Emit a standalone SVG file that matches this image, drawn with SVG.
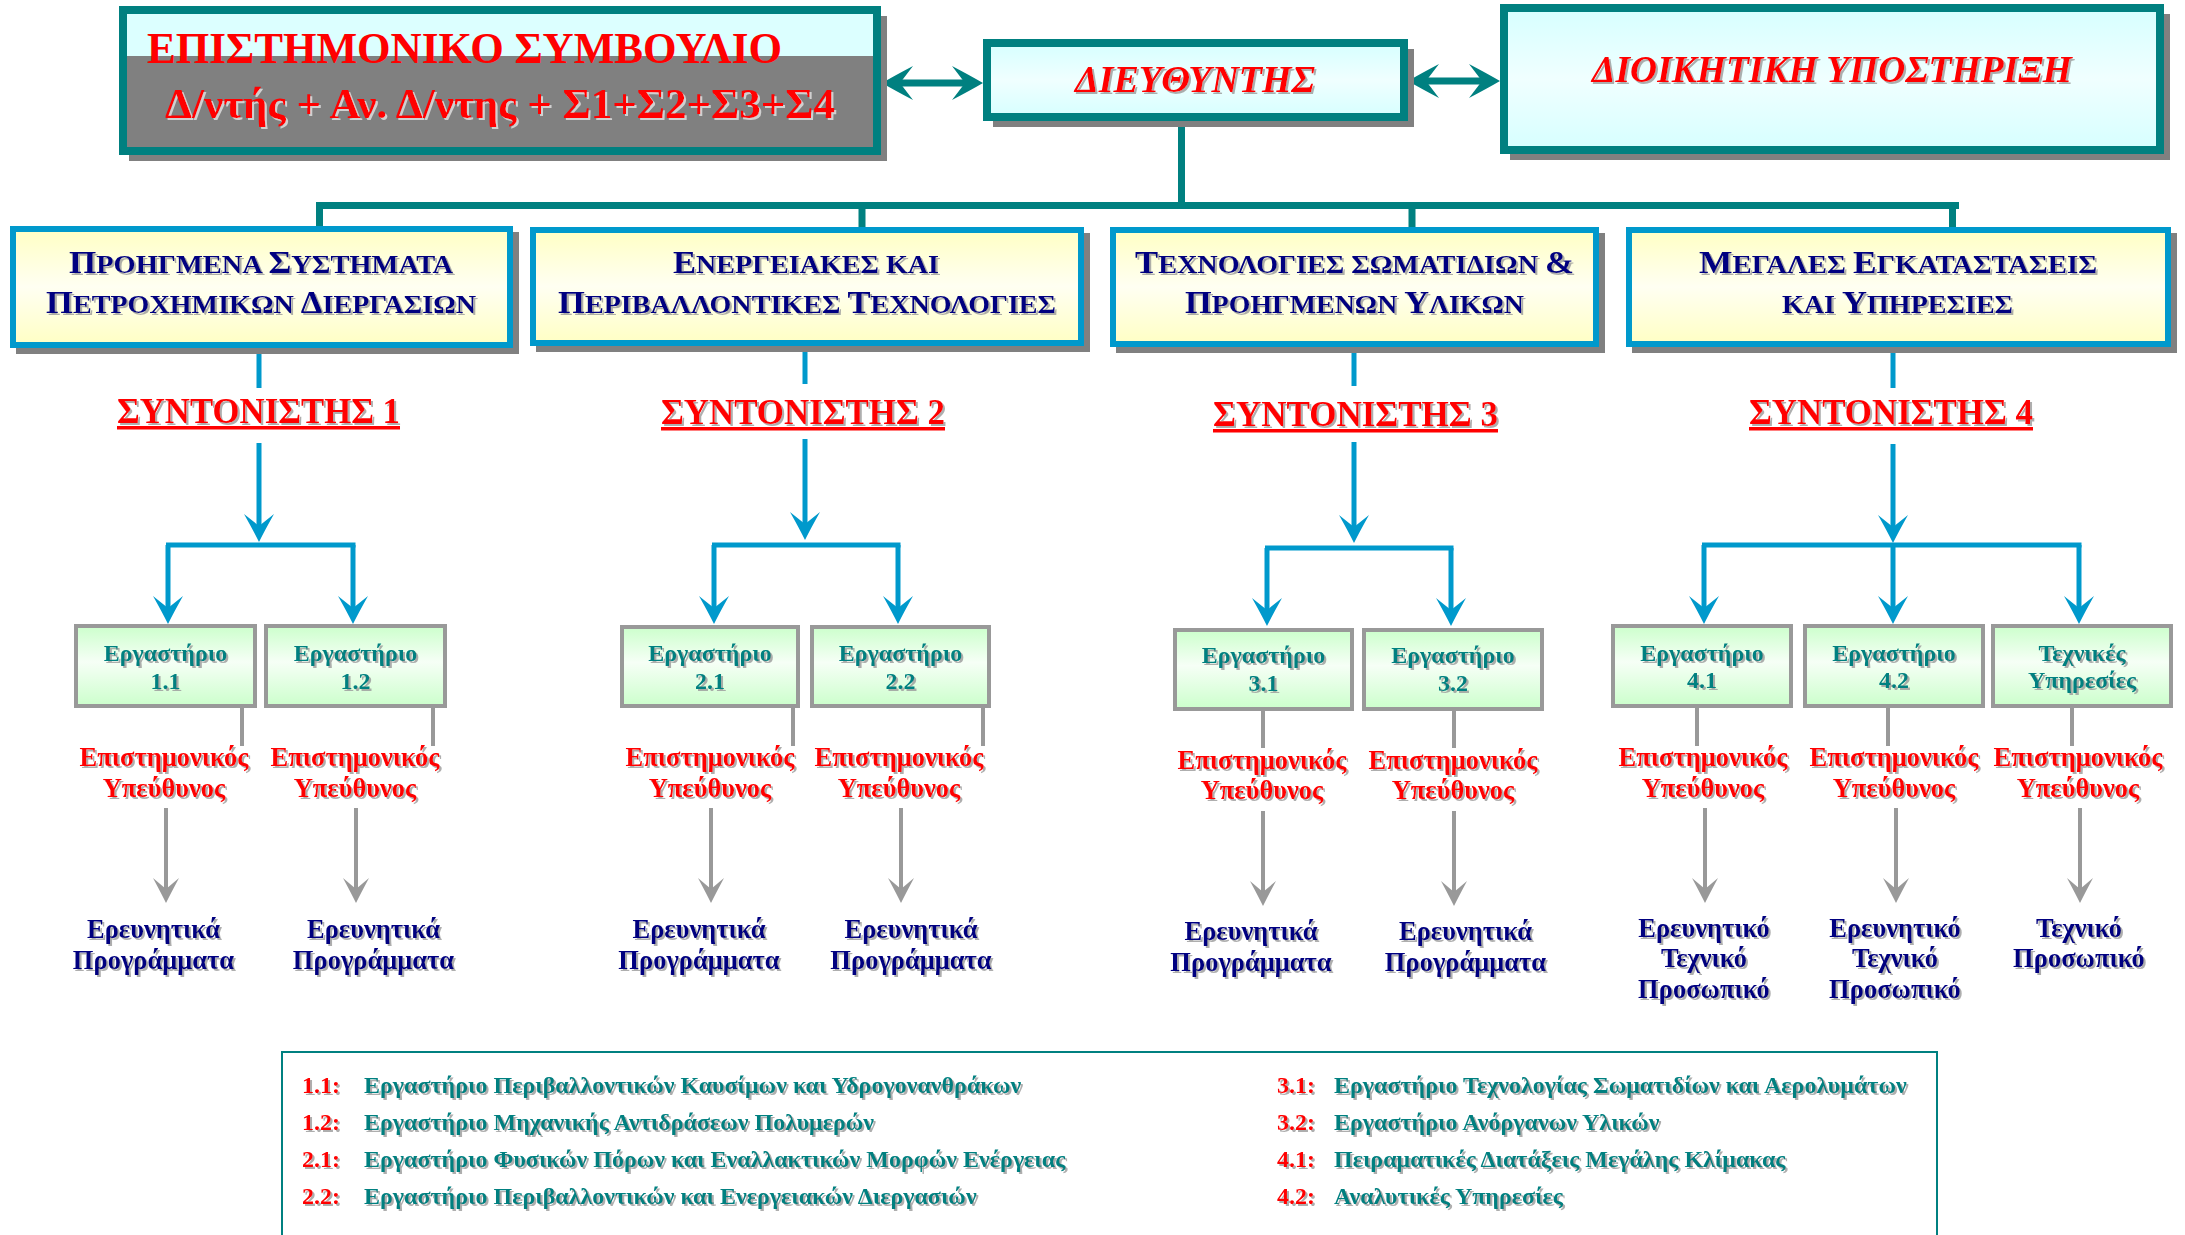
<svg xmlns="http://www.w3.org/2000/svg" width="2185" height="1235" viewBox="0 0 2185 1235">
<style>
text{font-family:"Liberation Serif","Times New Roman",serif;font-weight:bold}
.red{fill:#ff0000}
.navy{fill:#000080}
.teal{fill:#008080}
.cat{font-size:26px;fill:#000080}
.big{font-size:32px}
.coord{font-size:35px;fill:#ff0000}
.lab{font-size:24px;fill:#008080}
.resp{font-size:26.5px;fill:#ff0000}
.out{font-size:26.5px;fill:#000080}
.leg{font-size:24px}
.shadow{fill:#808080}
.tealbox{stroke:#008080;stroke-width:8}
.catbox{stroke:#0099cc;stroke-width:6;fill:url(#gYellow)}
.labbox{stroke:#999999;stroke-width:4;fill:url(#gGreen)}
.tline{stroke:#008080;stroke-width:7;fill:none}
.bline{stroke:#0099cc;stroke-width:5;fill:none}
.gline{stroke:#999999;stroke-width:4;fill:none}
</style>
<defs>
<linearGradient id="gCyan" x1="0" y1="0" x2="0" y2="1"><stop offset="0" stop-color="#d6ffff"/><stop offset="0.5" stop-color="#f0ffff"/><stop offset="1" stop-color="#d6ffff"/></linearGradient>
<linearGradient id="gYellow" x1="0" y1="0" x2="0" y2="1"><stop offset="0" stop-color="#ffffc4"/><stop offset="0.5" stop-color="#fffff2"/><stop offset="1" stop-color="#ffffc4"/></linearGradient>
<linearGradient id="gGreen" x1="0" y1="0" x2="0" y2="1"><stop offset="0" stop-color="#ccffcc"/><stop offset="0.45" stop-color="#f6fff6"/><stop offset="1" stop-color="#ccffcc"/></linearGradient>
<filter id="ts" x="-5%" y="-20%" width="110%" height="140%"><feDropShadow dx="2" dy="2" stdDeviation="0.4" flood-color="#9a9a9a" flood-opacity="0.8"/></filter>
<filter id="tsl" x="-5%" y="-20%" width="110%" height="140%"><feDropShadow dx="2" dy="2" stdDeviation="0.3" flood-color="#d0d0d0" flood-opacity="1"/></filter>
<marker id="aBlue" markerUnits="userSpaceOnUse" orient="auto" refX="-14" refY="0" markerWidth="60" markerHeight="60" overflow="visible"><path d="M0,0 Q-12,-6 -28,-15 L-16,0 L-28,15 Q-12,6 0,0Z" fill="#0099cc"/></marker>
<marker id="aGray" markerUnits="userSpaceOnUse" orient="auto" refX="-12" refY="0" markerWidth="60" markerHeight="60" overflow="visible"><path d="M0,0 Q-10,-5 -25,-13 L-14,0 L-25,13 Q-10,5 0,0Z" fill="#999999"/></marker>
<marker id="aTeal" markerUnits="userSpaceOnUse" orient="auto-start-reverse" refX="-14" refY="0" markerWidth="60" markerHeight="60" overflow="visible"><path d="M0,0 Q-12,-7 -31,-17 L-18,0 L-31,17 Q-12,7 0,0Z" fill="#008080"/></marker>
</defs>
<rect width="2185" height="1235" fill="#ffffff"/>

<g id="connectors">
<path class="tline" d="M896,83 H969" marker-start="url(#aTeal)" marker-end="url(#aTeal)"/>
<path class="tline" d="M1422,81 H1486" marker-start="url(#aTeal)" marker-end="url(#aTeal)"/>
<path class="tline" d="M1181.5,121 V205.5 M316,205.5 H1959 M319.5,205 V228 M862,205 V228 M1412,205 V228 M1952.5,205 V228"/>
<path class="bline" d="M259,348 V388 M805,346 V384 M1354,348 V386 M1893,348 V388"/>
<path class="bline" d="M259,443 V528" marker-end="url(#aBlue)"/>
<path class="bline" d="M805,439 V526" marker-end="url(#aBlue)"/>
<path class="bline" d="M1354,442 V529" marker-end="url(#aBlue)"/>
<path class="bline" d="M1893,444 V529" marker-end="url(#aBlue)"/>
<path class="bline" d="M166,545 H355.5 M712,545 H900.5 M1265,548 H1453.5 M1702,545 H2081.5"/>
<path class="bline" d="M168,545 V610" marker-end="url(#aBlue)"/>
<path class="bline" d="M353,545 V610" marker-end="url(#aBlue)"/>
<path class="bline" d="M714,545 V610" marker-end="url(#aBlue)"/>
<path class="bline" d="M898,545 V610" marker-end="url(#aBlue)"/>
<path class="bline" d="M1267,548 V612" marker-end="url(#aBlue)"/>
<path class="bline" d="M1451,548 V612" marker-end="url(#aBlue)"/>
<path class="bline" d="M1704,545 V610" marker-end="url(#aBlue)"/>
<path class="bline" d="M1893,545 V610" marker-end="url(#aBlue)"/>
<path class="bline" d="M2079,545 V610" marker-end="url(#aBlue)"/>
<path class="gline" d="M242,708 V746 M433,708 V746 M793,708 V746 M983,708 V746 M1263,711 V748 M1454,711 V748 M1697,708 V746 M1888,708 V746 M2072,708 V746"/>
<path class="gline" d="M166,808 V891" marker-end="url(#aGray)"/>
<path class="gline" d="M356,808 V891" marker-end="url(#aGray)"/>
<path class="gline" d="M711,808 V891" marker-end="url(#aGray)"/>
<path class="gline" d="M901,808 V891" marker-end="url(#aGray)"/>
<path class="gline" d="M1263,811 V894" marker-end="url(#aGray)"/>
<path class="gline" d="M1454,811 V894" marker-end="url(#aGray)"/>
<path class="gline" d="M1705,808 V891" marker-end="url(#aGray)"/>
<path class="gline" d="M1896,808 V891" marker-end="url(#aGray)"/>
<path class="gline" d="M2080,808 V891" marker-end="url(#aGray)"/>
</g>

<g id="node-council">
<rect class="shadow" x="129" y="16" width="758" height="145"/>
<rect x="123" y="10" width="754" height="141" fill="#dcffff"/>
<rect x="123" y="56" width="754" height="95" fill="#808080"/>
<rect class="tealbox" x="123" y="10" width="754" height="141" fill="none"/>
<text x="147" y="63" class="red" font-size="44" textLength="635" lengthAdjust="spacingAndGlyphs">ΕΠΙΣΤΗΜΟΝΙΚΟ ΣΥΜΒΟΥΛΙΟ</text>
<text x="165" y="118" class="red" font-size="42" textLength="670" lengthAdjust="spacingAndGlyphs" filter="url(#tsl)">Δ/ντής + Αν. Δ/ντης + Σ1+Σ2+Σ3+Σ4</text>
</g>

<g id="node-director">
<rect class="shadow" x="993" y="49" width="421" height="78"/>
<rect class="tealbox" x="987" y="43" width="417" height="74" fill="url(#gCyan)"/>
<text x="1195" y="92" text-anchor="middle" class="red" font-size="38" font-style="italic" textLength="240" lengthAdjust="spacingAndGlyphs" filter="url(#ts)">ΔΙΕΥΘΥΝΤΗΣ</text>
</g>

<g id="node-admin">
<rect class="shadow" x="1510" y="14" width="660" height="146"/>
<rect class="tealbox" x="1504" y="8" width="656" height="142" fill="url(#gCyan)"/>
<text x="1832" y="82" text-anchor="middle" class="red" font-size="38" font-style="italic" textLength="480" lengthAdjust="spacingAndGlyphs" filter="url(#ts)">ΔΙΟΙΚΗΤΙΚΗ ΥΠΟΣΤΗΡΙΞΗ</text>
</g>

<g id="node-cat1">
<rect class="shadow" x="16" y="232" width="503" height="122"/>
<rect class="catbox" x="13" y="229" width="497" height="116"/>
<text class="cat" x="261" y="273" text-anchor="middle" textLength="384" lengthAdjust="spacingAndGlyphs" filter="url(#ts)"><tspan class="big">Π</tspan>ΡΟΗΓΜΕΝΑ <tspan class="big">Σ</tspan>ΥΣΤΗΜΑΤΑ</text>
<text class="cat" x="261" y="313" text-anchor="middle" textLength="430" lengthAdjust="spacingAndGlyphs" filter="url(#ts)"><tspan class="big">Π</tspan>ΕΤΡΟΧΗΜΙΚΩΝ <tspan class="big">Δ</tspan>ΙΕΡΓΑΣΙΩΝ</text>
</g>
<g id="node-cat2">
<rect class="shadow" x="536" y="233" width="554" height="119"/>
<rect class="catbox" x="533" y="230" width="548" height="113"/>
<text class="cat" x="806" y="273" text-anchor="middle" textLength="266" lengthAdjust="spacingAndGlyphs" filter="url(#ts)"><tspan class="big">Ε</tspan>ΝΕΡΓΕΙΑΚΕΣ ΚΑΙ</text>
<text class="cat" x="807" y="313" text-anchor="middle" textLength="498" lengthAdjust="spacingAndGlyphs" filter="url(#ts)"><tspan class="big">Π</tspan>ΕΡΙΒΑΛΛΟΝΤΙΚΕΣ <tspan class="big">Τ</tspan>ΕΧΝΟΛΟΓΙΕΣ</text>
</g>
<g id="node-cat3">
<rect class="shadow" x="1116" y="233" width="489" height="120"/>
<rect class="catbox" x="1113" y="230" width="483" height="114"/>
<text class="cat" x="1354.5" y="273" text-anchor="middle" textLength="439" lengthAdjust="spacingAndGlyphs" filter="url(#ts)"><tspan class="big">Τ</tspan>ΕΧΝΟΛΟΓΙΕΣ ΣΩΜΑΤΙΔΙΩΝ <tspan class="big">&amp;</tspan></text>
<text class="cat" x="1354.5" y="313" text-anchor="middle" textLength="339" lengthAdjust="spacingAndGlyphs" filter="url(#ts)"><tspan class="big">Π</tspan>ΡΟΗΓΜΕΝΩΝ <tspan class="big">Υ</tspan>ΛΙΚΩΝ</text>
</g>
<g id="node-cat4">
<rect class="shadow" x="1632" y="233" width="545" height="120"/>
<rect class="catbox" x="1629" y="230" width="539" height="114"/>
<text class="cat" x="1898" y="273" text-anchor="middle" textLength="398" lengthAdjust="spacingAndGlyphs" filter="url(#ts)"><tspan class="big">Μ</tspan>ΕΓΑΛΕΣ <tspan class="big">Ε</tspan>ΓΚΑΤΑΣΤΑΣΕΙΣ</text>
<text class="cat" x="1897.5" y="313" text-anchor="middle" textLength="231" lengthAdjust="spacingAndGlyphs" filter="url(#ts)">ΚΑΙ <tspan class="big">Υ</tspan>ΠΗΡΕΣΙΕΣ</text>
</g>

<g id="node-coord1">
<text class="coord" x="258.5" y="423" text-anchor="middle" textLength="283" lengthAdjust="spacingAndGlyphs" filter="url(#ts)">ΣΥΝΤΟΝΙΣΤΗΣ 1</text>
<rect x="117" y="426" width="283" height="3.5" fill="#ff0000"/>
</g>
<g id="node-coord2">
<text class="coord" x="803" y="424" text-anchor="middle" textLength="284" lengthAdjust="spacingAndGlyphs" filter="url(#ts)">ΣΥΝΤΟΝΙΣΤΗΣ 2</text>
<rect x="661" y="427" width="284" height="3.5" fill="#ff0000"/>
</g>
<g id="node-coord3">
<text class="coord" x="1355.5" y="426" text-anchor="middle" textLength="285" lengthAdjust="spacingAndGlyphs" filter="url(#ts)">ΣΥΝΤΟΝΙΣΤΗΣ 3</text>
<rect x="1213" y="429" width="285" height="3.5" fill="#ff0000"/>
</g>
<g id="node-coord4">
<text class="coord" x="1891" y="424" text-anchor="middle" textLength="284" lengthAdjust="spacingAndGlyphs" filter="url(#ts)">ΣΥΝΤΟΝΙΣΤΗΣ 4</text>
<rect x="1749" y="427" width="284" height="3.5" fill="#ff0000"/>
</g>

<g id="node-lab11">
<rect class="labbox" x="76" y="626" width="179" height="80"/>
<text class="lab" x="165.5" y="661" text-anchor="middle" filter="url(#ts)">Εργαστήριο</text>
<text class="lab" x="165.5" y="689" text-anchor="middle" filter="url(#ts)">1.1</text>
</g>
<g id="node-lab12">
<rect class="labbox" x="266" y="626" width="179" height="80"/>
<text class="lab" x="355.5" y="661" text-anchor="middle" filter="url(#ts)">Εργαστήριο</text>
<text class="lab" x="355.5" y="689" text-anchor="middle" filter="url(#ts)">1.2</text>
</g>
<g id="node-lab21">
<rect class="labbox" x="622" y="627" width="176" height="79"/>
<text class="lab" x="710" y="661" text-anchor="middle" filter="url(#ts)">Εργαστήριο</text>
<text class="lab" x="710" y="689" text-anchor="middle" filter="url(#ts)">2.1</text>
</g>
<g id="node-lab22">
<rect class="labbox" x="812" y="627" width="177" height="79"/>
<text class="lab" x="900.5" y="661" text-anchor="middle" filter="url(#ts)">Εργαστήριο</text>
<text class="lab" x="900.5" y="689" text-anchor="middle" filter="url(#ts)">2.2</text>
</g>
<g id="node-lab31">
<rect class="labbox" x="1175" y="630" width="177" height="79"/>
<text class="lab" x="1263.5" y="663" text-anchor="middle" filter="url(#ts)">Εργαστήριο</text>
<text class="lab" x="1263.5" y="691" text-anchor="middle" filter="url(#ts)">3.1</text>
</g>
<g id="node-lab32">
<rect class="labbox" x="1364" y="630" width="178" height="79"/>
<text class="lab" x="1453" y="663" text-anchor="middle" filter="url(#ts)">Εργαστήριο</text>
<text class="lab" x="1453" y="691" text-anchor="middle" filter="url(#ts)">3.2</text>
</g>
<g id="node-lab41">
<rect class="labbox" x="1613" y="626" width="178" height="80"/>
<text class="lab" x="1702" y="661" text-anchor="middle" filter="url(#ts)">Εργαστήριο</text>
<text class="lab" x="1702" y="688" text-anchor="middle" filter="url(#ts)">4.1</text>
</g>
<g id="node-lab42">
<rect class="labbox" x="1805" y="626" width="178" height="80"/>
<text class="lab" x="1894" y="661" text-anchor="middle" filter="url(#ts)">Εργαστήριο</text>
<text class="lab" x="1894" y="688" text-anchor="middle" filter="url(#ts)">4.2</text>
</g>
<g id="node-techserv">
<rect class="labbox" x="1993" y="626" width="178" height="80"/>
<text class="lab" x="2082" y="661" text-anchor="middle" filter="url(#ts)">Τεχνικές</text>
<text class="lab" x="2082" y="688" text-anchor="middle" filter="url(#ts)">Υπηρεσίες</text>
</g>

<g id="node-resp11"><text class="resp" x="164" y="766" text-anchor="middle" filter="url(#ts)">Επιστημονικός</text><text class="resp" x="164" y="797" text-anchor="middle" filter="url(#ts)">Υπεύθυνος</text></g>
<g id="node-resp12"><text class="resp" x="355" y="766" text-anchor="middle" filter="url(#ts)">Επιστημονικός</text><text class="resp" x="355" y="797" text-anchor="middle" filter="url(#ts)">Υπεύθυνος</text></g>
<g id="node-resp21"><text class="resp" x="710" y="766" text-anchor="middle" filter="url(#ts)">Επιστημονικός</text><text class="resp" x="710" y="797" text-anchor="middle" filter="url(#ts)">Υπεύθυνος</text></g>
<g id="node-resp22"><text class="resp" x="899" y="766" text-anchor="middle" filter="url(#ts)">Επιστημονικός</text><text class="resp" x="899" y="797" text-anchor="middle" filter="url(#ts)">Υπεύθυνος</text></g>
<g id="node-resp31"><text class="resp" x="1262" y="769" text-anchor="middle" filter="url(#ts)">Επιστημονικός</text><text class="resp" x="1262" y="799" text-anchor="middle" filter="url(#ts)">Υπεύθυνος</text></g>
<g id="node-resp32"><text class="resp" x="1453" y="769" text-anchor="middle" filter="url(#ts)">Επιστημονικός</text><text class="resp" x="1453" y="799" text-anchor="middle" filter="url(#ts)">Υπεύθυνος</text></g>
<g id="node-resp41"><text class="resp" x="1703" y="766" text-anchor="middle" filter="url(#ts)">Επιστημονικός</text><text class="resp" x="1703" y="797" text-anchor="middle" filter="url(#ts)">Υπεύθυνος</text></g>
<g id="node-resp42"><text class="resp" x="1894" y="766" text-anchor="middle" filter="url(#ts)">Επιστημονικός</text><text class="resp" x="1894" y="797" text-anchor="middle" filter="url(#ts)">Υπεύθυνος</text></g>
<g id="node-resp43"><text class="resp" x="2078" y="766" text-anchor="middle" filter="url(#ts)">Επιστημονικός</text><text class="resp" x="2078" y="797" text-anchor="middle" filter="url(#ts)">Υπεύθυνος</text></g>

<g id="node-out11"><text class="out" x="153.5" y="938" text-anchor="middle" filter="url(#ts)">Ερευνητικά</text><text class="out" x="153.5" y="969" text-anchor="middle" filter="url(#ts)">Προγράμματα</text></g>
<g id="node-out12"><text class="out" x="373.5" y="938" text-anchor="middle" filter="url(#ts)">Ερευνητικά</text><text class="out" x="373.5" y="969" text-anchor="middle" filter="url(#ts)">Προγράμματα</text></g>
<g id="node-out21"><text class="out" x="699" y="938" text-anchor="middle" filter="url(#ts)">Ερευνητικά</text><text class="out" x="699" y="969" text-anchor="middle" filter="url(#ts)">Προγράμματα</text></g>
<g id="node-out22"><text class="out" x="911" y="938" text-anchor="middle" filter="url(#ts)">Ερευνητικά</text><text class="out" x="911" y="969" text-anchor="middle" filter="url(#ts)">Προγράμματα</text></g>
<g id="node-out31"><text class="out" x="1251" y="940" text-anchor="middle" filter="url(#ts)">Ερευνητικά</text><text class="out" x="1251" y="971" text-anchor="middle" filter="url(#ts)">Προγράμματα</text></g>
<g id="node-out32"><text class="out" x="1465.5" y="940" text-anchor="middle" filter="url(#ts)">Ερευνητικά</text><text class="out" x="1465.5" y="971" text-anchor="middle" filter="url(#ts)">Προγράμματα</text></g>
<g id="node-out41"><text class="out" x="1704" y="937" text-anchor="middle" filter="url(#ts)">Ερευνητικό</text><text class="out" x="1704" y="967" text-anchor="middle" filter="url(#ts)">Τεχνικό</text><text class="out" x="1704" y="998" text-anchor="middle" filter="url(#ts)">Προσωπικό</text></g>
<g id="node-out42"><text class="out" x="1895" y="937" text-anchor="middle" filter="url(#ts)">Ερευνητικό</text><text class="out" x="1895" y="967" text-anchor="middle" filter="url(#ts)">Τεχνικό</text><text class="out" x="1895" y="998" text-anchor="middle" filter="url(#ts)">Προσωπικό</text></g>
<g id="node-out43"><text class="out" x="2079" y="937" text-anchor="middle" filter="url(#ts)">Τεχνικό</text><text class="out" x="2079" y="967" text-anchor="middle" filter="url(#ts)">Προσωπικό</text></g>

<g id="node-legend">
<rect x="282" y="1052" width="1655" height="200" fill="none" stroke="#008080" stroke-width="2"/>
<g class="leg" filter="url(#ts)">
<text class="leg red" x="302" y="1093">1.1:</text><text class="leg teal" x="364" y="1093">Εργαστήριο Περιβαλλοντικών Καυσίμων και Υδρογονανθράκων</text>
<text class="leg red" x="302" y="1130">1.2:</text><text class="leg teal" x="364" y="1130">Εργαστήριο Μηχανικής Αντιδράσεων Πολυμερών</text>
<text class="leg red" x="302" y="1167">2.1:</text><text class="leg teal" x="364" y="1167">Εργαστήριο Φυσικών Πόρων και Εναλλακτικών Μορφών Ενέργειας</text>
<text class="leg red" x="302" y="1204">2.2:</text><text class="leg teal" x="364" y="1204">Εργαστήριο Περιβαλλοντικών και Ενεργειακών Διεργασιών</text>
<text class="leg red" x="1277" y="1093">3.1:</text><text class="leg teal" x="1334" y="1093">Εργαστήριο Τεχνολογίας Σωματιδίων και Αερολυμάτων</text>
<text class="leg red" x="1277" y="1130">3.2:</text><text class="leg teal" x="1334" y="1130">Εργαστήριο Ανόργανων Υλικών</text>
<text class="leg red" x="1277" y="1167">4.1:</text><text class="leg teal" x="1334" y="1167">Πειραματικές Διατάξεις Μεγάλης Κλίμακας</text>
<text class="leg red" x="1277" y="1204">4.2:</text><text class="leg teal" x="1334" y="1204">Αναλυτικές Υπηρεσίες</text>
</g>
</g>
</svg>
